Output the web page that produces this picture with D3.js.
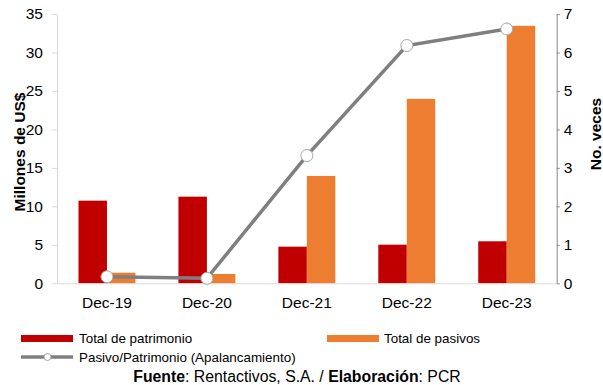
<!DOCTYPE html>
<html>
<head>
<meta charset="utf-8">
<script src="https://cdn.jsdelivr.net/npm/d3@7"></script>
<style>
  html, body { margin: 0; padding: 0; background: #fff; }
  svg { display: block; font-family: Arial, "Liberation Sans", sans-serif; }
</style>
</head>
<body>
<svg id="chart" width="603" height="385"></svg>
<script>
// Data
const categories = ["Dec-19", "Dec-20", "Dec-21", "Dec-22", "Dec-23"];
const patrimonio = [10.74, 11.26, 4.76, 5.02, 5.46];
const pasivos = [1.38, 1.21, 13.95, 23.97, 33.46];
const apalancamiento = [0.17, 0.13, 3.32, 6.18, 6.61];
const leftTicks = [0, 5, 10, 15, 20, 25, 30, 35];
const rightTicks = [0, 1, 2, 3, 4, 5, 6, 7];
const seriesNames = ["Total de patrimonio", "Total de pasivos", "Pasivo/Patrimonio (Apalancamiento)"];

const colors = { patrimonio: "#C00000", pasivos: "#ED7D31", line: "#7F7F7F" };

const svg = d3.select("#chart");
const plot = { left: 57, right: 556.7, top: 14, bottom: 283.3 };

const x = d3.scaleBand().domain(categories).range([plot.left, plot.right])
  .paddingInner(0.43).paddingOuter(0.215);
const xSub = d3.scaleBand().domain(["patrimonio", "pasivos"]).range([0, x.bandwidth()]);
const yL = d3.scaleLinear().domain([0, 35]).range([plot.bottom, plot.top]);
const yR = d3.scaleLinear().domain([0, 7]).range([plot.bottom, plot.top]);

// Bars
const groups = svg.append("g").selectAll("g").data(categories).join("g")
  .attr("transform", d => `translate(${x(d)},0)`);
groups.append("rect")
  .attr("x", xSub("patrimonio")).attr("width", xSub.bandwidth())
  .attr("y", (d, i) => yL(patrimonio[i]))
  .attr("height", (d, i) => yL(0) - yL(patrimonio[i]))
  .attr("fill", colors.patrimonio);
groups.append("rect")
  .attr("x", xSub("pasivos")).attr("width", xSub.bandwidth())
  .attr("y", (d, i) => yL(pasivos[i]))
  .attr("height", (d, i) => yL(0) - yL(pasivos[i]))
  .attr("fill", colors.pasivos);

const fontFam = "Arial, 'Liberation Sans', sans-serif";

// Left axis
const axL = svg.append("g").attr("transform", `translate(${plot.left},0)`)
  .call(d3.axisLeft(yL).tickValues(leftTicks).tickFormat(d3.format("d"))
    .tickSize(5).tickPadding(9).tickSizeOuter(0));
axL.select(".domain").attr("stroke", "#D9D9D9");
axL.selectAll(".tick line").attr("stroke", "#D9D9D9");
axL.selectAll("text").attr("font-size", 15.5).attr("fill", "#000").attr("font-family", fontFam);

// Right axis
const axR = svg.append("g").attr("transform", `translate(${plot.right},0)`)
  .call(d3.axisRight(yR).tickValues(rightTicks).tickFormat(d3.format("d"))
    .tickSize(3).tickPadding(4).tickSizeOuter(0));
axR.select(".domain").attr("stroke", "#868686");
axR.selectAll(".tick line").attr("stroke", "#868686");
axR.selectAll("text").attr("font-size", 15.5).attr("fill", "#000").attr("font-family", fontFam);

// Bottom axis
const axB = svg.append("g").attr("transform", `translate(0,${plot.bottom})`)
  .call(d3.axisBottom(x).tickSize(0).tickPadding(14).tickSizeOuter(0));
axB.select(".domain").attr("stroke", "#D9D9D9");
axB.selectAll("text").attr("font-size", 15.5).attr("fill", "#000").attr("font-family", fontFam);

// Leverage line
const cx = d => x(d) + x.bandwidth() / 2;
const line = d3.line().x((d, i) => cx(categories[i])).y(d => yR(d));
svg.append("path").datum(apalancamiento)
  .attr("d", line).attr("fill", "none")
  .attr("stroke", colors.line).attr("stroke-width", 3.5);
svg.append("g").selectAll("circle").data(apalancamiento).join("circle")
  .attr("cx", (d, i) => cx(categories[i])).attr("cy", d => yR(d))
  .attr("r", 6).attr("fill", "#fff").attr("stroke", "#A6A6A6").attr("stroke-width", 1);

// Axis titles
svg.append("text").attr("transform", "translate(25,152) rotate(-90)")
  .attr("text-anchor", "middle").attr("font-size", 15.5).attr("font-weight", "bold")
  .text("Millones de US$");
svg.append("text").attr("transform", "translate(601,134) rotate(-90)")
  .attr("text-anchor", "middle").attr("font-size", 15.5).attr("font-weight", "bold")
  .text("No. veces");

// Legend
const lg = svg.append("g").attr("font-size", 13.4);
lg.append("rect").attr("x", 21).attr("y", 335).attr("width", 52).attr("height", 7).attr("fill", colors.patrimonio);
lg.append("text").attr("x", 79).attr("y", 338.5).attr("dy", "0.35em").text(seriesNames[0]);
lg.append("rect").attr("x", 327).attr("y", 335).attr("width", 52).attr("height", 7).attr("fill", colors.pasivos);
lg.append("text").attr("x", 384).attr("y", 338.5).attr("dy", "0.35em").text(seriesNames[1]);
lg.append("line").attr("x1", 21).attr("x2", 73).attr("y1", 357).attr("y2", 357)
  .attr("stroke", colors.line).attr("stroke-width", 3.5);
lg.append("circle").attr("cx", 47.5).attr("cy", 357).attr("r", 3.5)
  .attr("fill", "#fff").attr("stroke", "#A6A6A6").attr("stroke-width", 1);
lg.append("text").attr("x", 79).attr("y", 357).attr("dy", "0.35em").text(seriesNames[2]);

// Source note
const src = svg.append("text").attr("x", 297).attr("y", 376).attr("dy", "0.35em")
  .attr("text-anchor", "middle").attr("font-size", 15.8);
src.append("tspan").attr("font-weight", "bold").text("Fuente");
src.append("tspan").text(": Rentactivos, S.A. / ");
src.append("tspan").attr("font-weight", "bold").text("Elaboración");
src.append("tspan").text(": PCR");
</script>
</body>
</html>
